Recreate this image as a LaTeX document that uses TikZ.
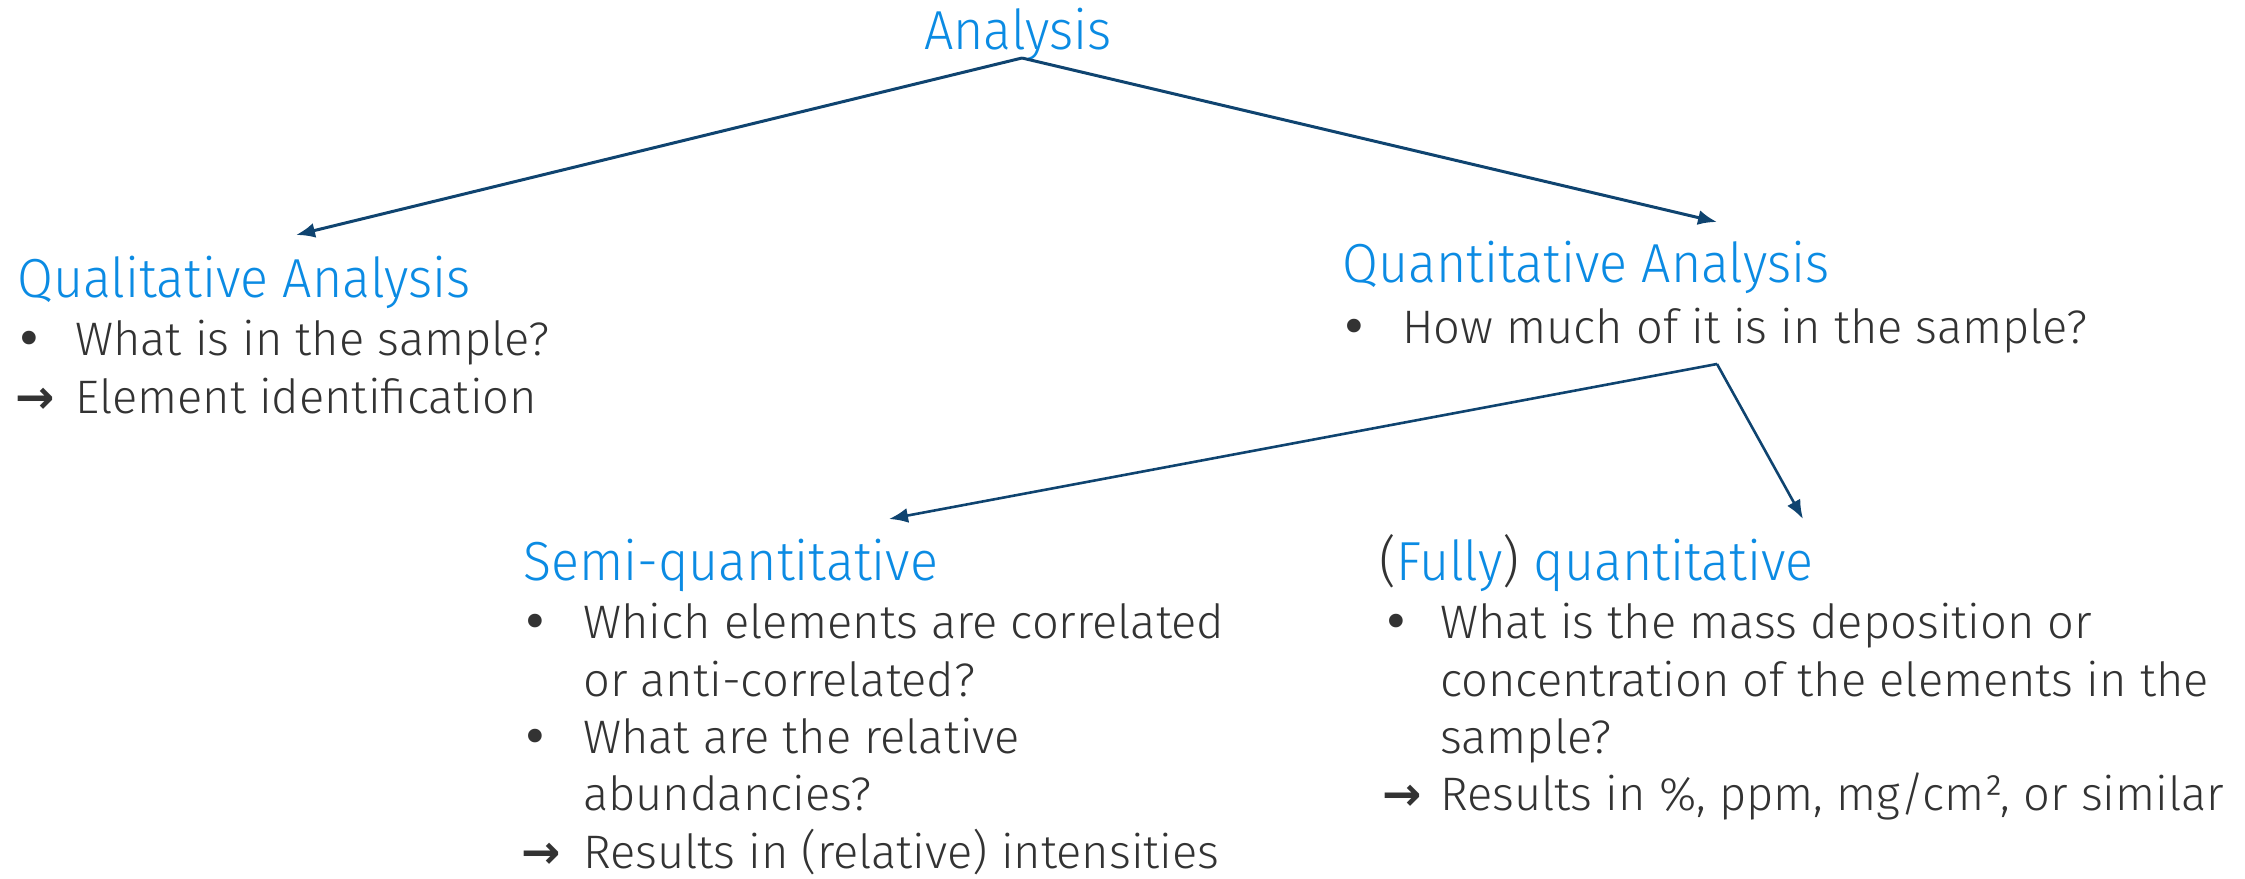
\documentclass[tikz,border=0pt]{standalone}
\usepackage{fontspec}
\setmainfont{Fira Sans Light}
\newfontfamily\headfont{Fira Sans Light}[FakeStretch=0.945]
\newfontfamily\arrfont{DejaVu Sans}
\usetikzlibrary{arrows.meta}
\definecolor{anblue}{HTML}{0B8BE3}
\definecolor{angray}{HTML}{333333}
\definecolor{annavy}{HTML}{0F4470}
\tikzset{
  anhead/.style={anchor=base west,inner sep=0pt,text=anblue,font=\headfont\fontsize{55}{66}\selectfont},
  anline/.style={anchor=base west,inner sep=0pt,text=angray,font=\fontsize{47}{57}\selectfont},
  andot/.style={anline,font=\arrfont\fontsize{47}{57}\selectfont},
  anpoint/.style={anline,font=\arrfont\bfseries\fontsize{47}{57}\selectfont},
  anarrow/.style={-{Latex[length=19pt,width=15pt]},draw=annavy,line width=3pt},
  anarrowthin/.style={anarrow,line width=2.6pt}
}

\begin{document}
\begin{tikzpicture}[x=1pt,y=-1pt]
\useasboundingbox (0,0) rectangle (2245,878);
\node[anhead] (ana) at (924,49) {Analysis};
% qualitative branch
\node[anhead] (qual) at (17,297) {Qualitative Analysis};
\node[andot] (qualb1) at (15,355) {•};
\node[anline] (qual1) at (75,355) {What is in the sample?};
\node[anpoint] (quala) at (15,413) {→};
\node[anline] (qual2) at (75,413) {Element identification};
% quantitative branch
\node[anhead] (quan) at (1342,282) {Quantitative Analysis};
\node[andot] (quanb1) at (1340,343) {•};
\node[anline] (quan1) at (1402,343) {How much of it is in the sample?};
% semi-quantitative
\node[anhead] (semi) at (523,580) {Semi-quantitative};
\node[andot] (semib1) at (521,638) {•};
\node[anline] (semi1) at (583,638) {Which elements are correlated};
\node[anline] (semi2) at (583,696) {or anti-correlated?};
\node[andot] (semib2) at (521,753) {•};
\node[anline] (semi3) at (583,753) {What are the relative};
\node[anline] (semi4) at (583,810) {abundancies?};
\node[anpoint] (semia) at (521,868) {→};
\node[anline] (semi5) at (583,868) {Results in (relative) intensities};
% fully quantitative
\node[anhead] (full) at (1379,580) {\textcolor{angray}{(}Fully\textcolor{angray}{)} quantitative};
\node[andot] (fullb1) at (1382,638) {•};
\node[anline] (full1) at (1440,638) {What is the mass deposition or};
\node[anline] (full2) at (1440,696) {concentration of the elements in the};
\node[anline] (full3) at (1440,753) {sample?};
\node[anpoint] (fulla) at (1382,810) {→};
\node[anline] (full4) at (1440,810) {Results in \%, ppm, mg/cm², or similar};
% connectors
\coordinate (anafork) at (1022,58);
\coordinate (qualtip) at (296,235);
\coordinate (quantip) at (1717,222);
\coordinate (quanfork) at (1717,364);
\coordinate (semitip) at (889,519);
\coordinate (fulltip) at (1803,519);
\draw[anarrow] (anafork) -- (qualtip);
\draw[anarrow] (anafork) -- (quantip);
\draw[anarrowthin] (quanfork) -- (semitip);
\draw[anarrowthin] (quanfork) -- (fulltip);
\end{tikzpicture}
\end{document}
